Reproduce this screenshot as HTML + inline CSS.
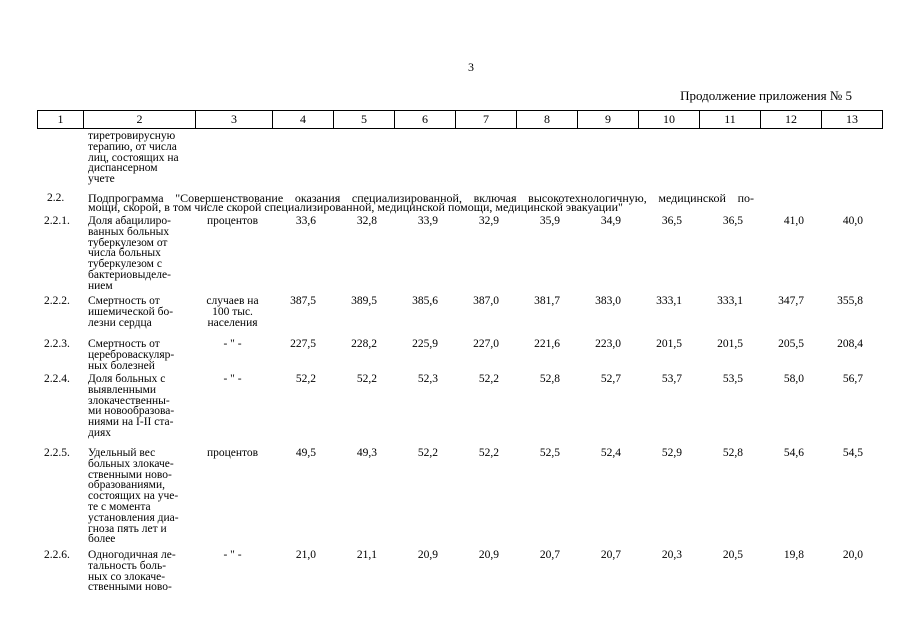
<!DOCTYPE html>
<html><head><meta charset="utf-8"><style>
body{margin:0;width:905px;height:640px;background:#fff;position:relative;overflow:hidden;font-family:"Liberation Serif",serif;font-size:11.5px;color:#000}
.a{position:absolute;line-height:10.8px;white-space:nowrap}
.r{text-align:right;width:60px}
.c{text-align:center}
table{position:absolute;left:37px;top:110px;border-collapse:collapse}
td{border:1px solid #000;height:17px;padding:0;text-align:center;font-size:12px;line-height:17px}
</style></head><body>
<div class="a" style="left:468px;top:62px;font-size:12px">3</div>
<div class="a" style="left:560px;width:292px;text-align:right;top:91px;font-size:13px">Продолжение приложения № 5</div>
<table><tr>
<td style="width:45px">1</td><td style="width:111px">2</td><td style="width:76px">3</td><td style="width:60px">4</td><td style="width:60px">5</td><td style="width:60px">6</td><td style="width:60px">7</td><td style="width:60px">8</td><td style="width:60px">9</td><td style="width:60px">10</td><td style="width:60px">11</td><td style="width:60px">12</td><td style="width:60px">13</td>
</tr></table>

<div class="a" style="left:88px;top:131px">тиретровирусную<br>терапию, от числа<br>лиц, состоящих на<br>диспансерном<br>учете</div>

<div class="a" style="left:47px;top:193px">2.2.</div>
<div class="a" style="left:88px;top:193px;width:666px;white-space:normal;text-align:justify;text-align-last:justify;font-size:12px">Подпрограмма "Совершенствование оказания специализированной, включая высокотехнологичную, медицинской по-</div>
<div class="a" style="left:88px;top:202px;font-size:12px">мощи, скорой, в том числе скорой специализированной, медицинской помощи, медицинской эвакуации"</div>

<div class="a" style="left:44px;top:216px">2.2.1.</div>
<div class="a" style="left:88px;top:216px">Доля абацилиро-<br>ванных больных<br>туберкулезом от<br>числа больных<br>туберкулезом с<br>бактериовыделе-<br>нием</div>
<div class="a c" style="left:193px;width:79px;top:216px">процентов</div>

<div class="a" style="left:44px;top:296px">2.2.2.</div>
<div class="a" style="left:88px;top:296px">Смертность от<br>ишемической бо-<br>лезни сердца</div>
<div class="a c" style="left:193px;width:79px;top:296px">случаев на<br>100 тыс.<br>населения</div>

<div class="a" style="left:44px;top:339px">2.2.3.</div>
<div class="a" style="left:88px;top:339px">Смертность от<br>цереброваскуляр-<br>ных болезней</div>
<div class="a c" style="left:193px;width:79px;top:339px">- " -</div>

<div class="a" style="left:44px;top:374px">2.2.4.</div>
<div class="a" style="left:88px;top:374px">Доля больных с<br>выявленными<br>злокачественны-<br>ми новообразова-<br>ниями на I-II ста-<br>диях</div>
<div class="a c" style="left:193px;width:79px;top:374px">- " -</div>

<div class="a" style="left:44px;top:448px">2.2.5.</div>
<div class="a" style="left:88px;top:448px">Удельный вес<br>больных злокаче-<br>ственными ново-<br>образованиями,<br>состоящих на уче-<br>те с момента<br>установления диа-<br>гноза пять лет и<br>более</div>
<div class="a c" style="left:193px;width:79px;top:448px">процентов</div>

<div class="a" style="left:44px;top:550px">2.2.6.</div>
<div class="a" style="left:88px;top:550px">Одногодичная ле-<br>тальность боль-<br>ных со злокаче-<br>ственными ново-</div>
<div class="a c" style="left:193px;width:79px;top:550px">- " -</div>

<div id="vals"></div>
<script>
var rows=[[216,["33,6","32,8","33,9","32,9","35,9","34,9","36,5","36,5","41,0","40,0"]],
[296,["387,5","389,5","385,6","387,0","381,7","383,0","333,1","333,1","347,7","355,8"]],
[339,["227,5","228,2","225,9","227,0","221,6","223,0","201,5","201,5","205,5","208,4"]],
[374,["52,2","52,2","52,3","52,2","52,8","52,7","53,7","53,5","58,0","56,7"]],
[448,["49,5","49,3","52,2","52,2","52,5","52,4","52,9","52,8","54,6","54,5"]],
[550,["21,0","21,1","20,9","20,9","20,7","20,7","20,3","20,5","19,8","20,0"]]];
var h="";
rows.forEach(function(r){r[1].forEach(function(v,i){var right=316+i*61-(i==9?2:0);h+='<div class="a r" style="left:'+(right-60)+'px;top:'+r[0]+'px">'+v+'</div>';});});
document.getElementById("vals").innerHTML=h;
</script>
</body></html>
